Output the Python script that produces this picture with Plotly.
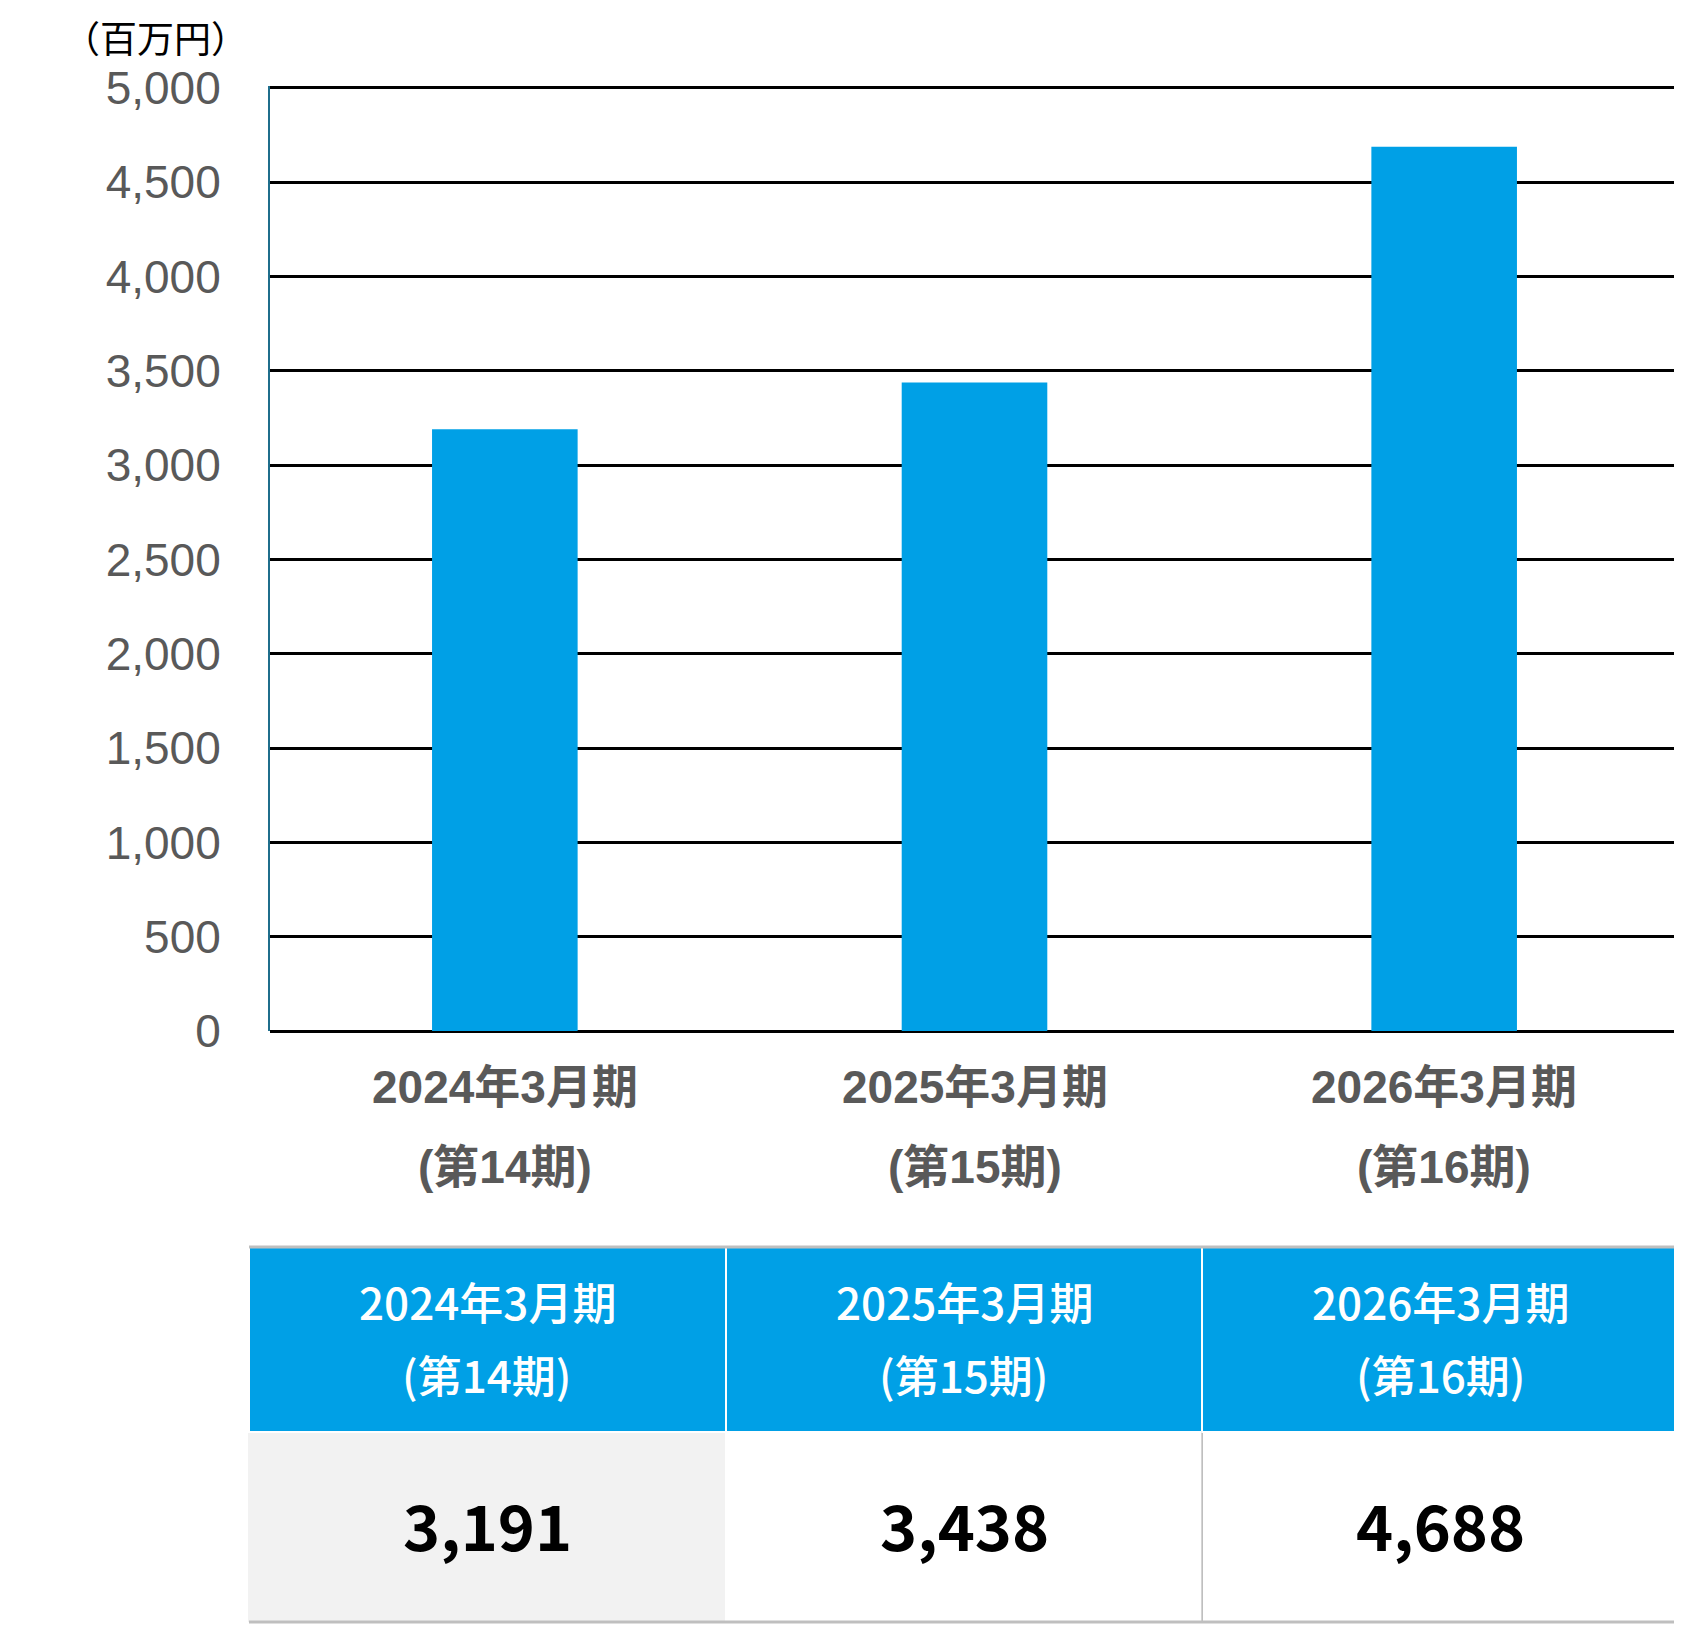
import plotly.graph_objects as go

# the page body has an 8px margin, so the figure is laid out 8px in from the corner
OFF = 8
VW, VH = 1682, 1625
W, H = VW - OFF, VH - OFF

# data
periods = ["2024年3月期", "2025年3月期", "2026年3月期"]
terms = ["(第14期)", "(第15期)", "(第16期)"]
sales = [3191, 3438, 4688]
y_ticks = [0, 500, 1000, 1500, 2000, 2500, 3000, 3500, 4000, 4500, 5000]
unit_label = "（百万円）"

BLUE = "#00A0E6"
GREY = "#595959"
CJK = "Noto Sans CJK JP"

# table box in screen pixels
TBL_L, TBL_R, TBL_T, TBL_B = 249, 1679, 1247, 1622
HEAD_H = 185


def px(x):
    return (x - OFF) / W


def py(y):
    return (H - (y - OFF)) / H


fig = go.Figure()

fig.add_trace(go.Bar(
    x=periods, y=sales, width=0.31,
    marker=dict(color=BLUE, line=dict(width=0)),
    hoverinfo="skip", showlegend=False,
))

# table under the chart (cells drawn by the table, text placed below as annotations)
fig.add_trace(go.Table(
    domain=dict(x=[px(TBL_L), px(TBL_R)], y=[py(TBL_B), py(TBL_T)]),
    columnwidth=[1] * len(periods),
    header=dict(
        values=[""] * len(periods),
        fill=dict(color=BLUE),
        line=dict(color="white", width=2),
        height=HEAD_H,
    ),
    cells=dict(
        values=[[""] for _ in sales],
        fill=dict(color=["#F2F2F2", "white", "white"]),
        line=dict(color=["#F2F2F2", "white", "#BFBFBF"], width=2),
        height=TBL_B - TBL_T - HEAD_H,
    ),
))

col_w = (TBL_R - TBL_L) / len(periods)
for i, (p, t, v) in enumerate(zip(periods, terms, sales)):
    cx = px(TBL_L + col_w * (i + 0.5))
    fig.add_annotation(x=cx, xref="paper", y=py(1301), yref="paper", text=p,
                       showarrow=False, xanchor="center", yanchor="middle",
                       font=dict(family=CJK, size=44, color="white", weight=500))
    fig.add_annotation(x=cx, xref="paper", y=py(1374), yref="paper", text=t,
                       showarrow=False, xanchor="center", yanchor="middle",
                       font=dict(family=CJK, size=44, color="white", weight=500))
    fig.add_annotation(x=cx, xref="paper", y=py(1523), yref="paper", text=f"<b>{v:,}</b>",
                       showarrow=False, xanchor="center", yanchor="middle",
                       font=dict(family=CJK, size=63, color="black"))

# category labels (two lines)
for p, t in zip(periods, terms):
    fig.add_annotation(x=p, xref="x", y=py(1087), yref="paper", text=f"<b>{p}</b>",
                       showarrow=False, yanchor="middle",
                       font=dict(family="Liberation Sans, " + CJK, size=46, color=GREY))
    fig.add_annotation(x=p, xref="x", y=py(1167), yref="paper", text=f"<b>{t}</b>",
                       showarrow=False, yanchor="middle",
                       font=dict(family="Liberation Sans, " + CJK, size=46, color=GREY))

fig.add_annotation(x=px(155), xref="paper", y=py(37), yref="paper", text=unit_label,
                   showarrow=False, xanchor="center", yanchor="middle",
                   font=dict(family=CJK, size=37, color="black"))

# table outer borders
for yy in (TBL_T, TBL_B):
    fig.add_shape(type="line", xref="paper", yref="paper", x0=px(TBL_L), x1=px(TBL_R),
                  y0=py(yy), y1=py(yy), line=dict(color="#BFBFBF", width=3))

fig.update_layout(
    width=W, height=H,
    margin=dict(l=0, r=0, t=0, b=0),
    paper_bgcolor="white", plot_bgcolor="white",
    xaxis=dict(domain=[px(270), px(1679)], range=[-0.5, 2.5], automargin=False,
               showticklabels=False, showgrid=False, showline=False, zeroline=False),
    yaxis=dict(domain=[py(1031), py(86.1)], range=[0, 5010], automargin=False,
               tickvals=y_ticks, ticktext=[f"{v:,}" for v in y_ticks],
               tickfont=dict(family="Liberation Sans, Arial", size=46, color=GREY),
               ticklabelstandoff=38,
               showgrid=True, gridcolor="black", gridwidth=3,
               zeroline=True, zerolinecolor="black", zerolinewidth=3,
               showline=True, linecolor="#1F6E8C", linewidth=2),
)

fig.write_html("out.html")
